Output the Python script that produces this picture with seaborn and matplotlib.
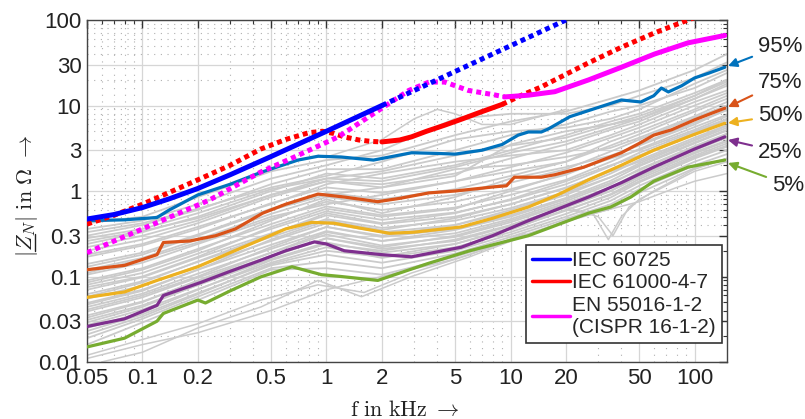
import matplotlib
matplotlib.use('Agg')
import matplotlib.pyplot as plt
from matplotlib.ticker import FixedLocator, FixedFormatter, NullFormatter
from matplotlib.lines import Line2D
from matplotlib.font_manager import FontProperties
import seaborn as sns

# ---------------- data ----------------
# reference impedances
iec60725_solid_f = [0.05, 0.07, 0.1, 0.14, 0.2, 0.3, 0.5, 1, 2]
iec60725_solid_z = [0.47, 0.53, 0.64, 0.81, 1.07, 1.55, 2.53, 5.0, 10.0]
iec60725_dot_f = [2, 5, 10, 20]
iec60725_dot_z = [10, 25, 50, 100]

iec61000_dot1_f = [0.05, 0.07, 0.1, 0.2, 0.3, 0.44, 0.6, 0.8, 0.95, 1.1, 1.25, 1.5, 1.75, 2.0]
iec61000_dot1_z = [0.41, 0.52, 0.7, 1.35, 2.0, 3.1, 4.0, 4.8, 5.0, 4.7, 4.3, 3.95, 3.8, 3.75]
iec61000_solid_f = [2.0, 2.5, 2.9, 3.5, 4.4, 5.5, 6.7, 8.0, 9.0]
iec61000_solid_z = [3.75, 3.95, 4.3, 5.0, 5.9, 7.0, 8.2, 9.4, 10.3]
iec61000_dot2_f = [9.0, 11.5, 14.7, 17.4, 26.5, 40, 60, 92, 100]
iec61000_dot2_z = [10.3, 13.2, 16.5, 19.9, 31.5, 48, 70, 100, 107]

en55016_dot_f = [0.05, 0.1, 0.23, 0.44, 0.67, 1.16, 2.0, 2.8, 3.6, 4.4, 5.9, 8.2, 9.3]
en55016_dot_z = [0.19, 0.36, 0.78, 1.67, 2.5, 4.3, 9.3, 15, 18.8, 18.8, 15, 13.3, 12.6]
en55016_solid_f = [9.3, 12.5, 17.4, 26.5, 40, 60.6, 92, 146]
en55016_solid_z = [12.6, 13.2, 14.5, 19.9, 28, 40, 54, 66]

# percentiles
p95_f = [0.05, 0.08, 0.12, 0.14, 0.2, 0.3, 0.44, 0.7, 0.9, 1.2, 1.8, 2.9, 4, 5, 7, 9, 11, 12.5,
         14.7, 16, 21, 30, 40, 51, 60, 66, 72, 85, 100, 120, 146]
p95_z = [0.45, 0.46, 0.49, 0.6, 0.9, 1.2, 1.65, 2.3, 2.55, 2.5, 2.3, 2.8, 2.75, 2.7, 3.0, 3.5, 4.5,
         4.9, 4.9, 5.3, 7.4, 9.5, 11.6, 11.0, 13.0, 16.0, 14.4, 17.0, 21.0, 24.0, 28.0]
p75_f = [0.05, 0.08, 0.12, 0.13, 0.18, 0.25, 0.32, 0.45, 0.6, 0.9, 1.25, 1.9, 2.5, 3.6, 5, 8.2,
         9.5, 10.5, 14.7, 17.4, 25, 40, 50, 60, 75, 100, 146]
p75_z = [0.12, 0.135, 0.18, 0.25, 0.26, 0.3, 0.36, 0.55, 0.7, 0.92, 0.85, 0.75, 0.82, 0.95, 1.0,
         1.12, 1.15, 1.45, 1.45, 1.55, 1.9, 2.8, 3.6, 4.5, 5.2, 6.8, 9.3]
p50_f = [0.05, 0.08, 0.12, 0.2, 0.3, 0.44, 0.6, 0.83, 1.1, 1.5, 2.2, 3, 5.4, 8, 12.5, 18, 26.5,
         40, 60, 100, 146]
p50_z = [0.057, 0.066, 0.09, 0.13, 0.19, 0.27, 0.36, 0.43, 0.42, 0.37, 0.32, 0.33, 0.38, 0.48,
         0.65, 0.9, 1.35, 2.0, 3.0, 4.6, 6.2]
p25_f = [0.05, 0.08, 0.12, 0.13, 0.21, 0.3, 0.44, 0.6, 0.86, 1.0, 1.25, 2, 2.9, 5.4, 8, 12.5,
         26.5, 40, 60, 100, 146]
p25_z = [0.026, 0.032, 0.046, 0.06, 0.086, 0.115, 0.155, 0.2, 0.254, 0.24, 0.2, 0.18, 0.17, 0.22,
         0.3, 0.45, 0.85, 1.25, 1.9, 3.1, 4.3]
p5_f = [0.05, 0.08, 0.12, 0.13, 0.2, 0.22, 0.3, 0.44, 0.65, 0.94, 1.2, 1.9, 3.6, 6, 12.5, 26.5,
        35, 45, 60, 92, 146]
p5_z = [0.015, 0.019, 0.03, 0.037, 0.053, 0.049, 0.068, 0.099, 0.13, 0.105, 0.1, 0.09, 0.143,
        0.2, 0.3, 0.55, 0.65, 0.85, 1.3, 1.9, 2.3]

percentile_labels = ['95%', '75%', '50%', '25%', '5%']

# measured curves (gray), common frequency grid
gray_f = [0.05, 0.1, 0.2, 0.5, 1, 2, 5, 10, 20, 35, 50, 100, 150]
gray_curves = [
    [0.42, 0.50, 0.85, 1.7, 2.3, 2.6, 4.5, 6.5, 8.5, 12, 15, 26, 40],
    [0.36, 0.45, 0.70, 1.4, 2.0, 3.0, 7.0, 8.0, 8.0, 10, 13, 21, 32],
    [0.33, 0.42, 0.62, 1.1, 1.5, 2.2, 4.0, 5.0, 5.5, 7, 9, 18, 26],
    [0.30, 0.40, 0.60, 1.2, 1.8, 1.8, 3.0, 4.5, 6.0, 8.5, 10, 16, 24],
    [0.28, 0.36, 0.55, 1.05, 1.4, 1.3, 1.9, 2.8, 3.8, 5.5, 7, 13, 19],
    [0.26, 0.34, 0.48, 0.9, 1.3, 1.1, 1.5, 3.5, 5.0, 6, 7, 12, 18],
    [0.24, 0.33, 0.50, 1.0, 1.6, 1.4, 2.0, 3.0, 4.5, 6.5, 8, 14, 20],
    [0.22, 0.30, 0.45, 0.9, 1.4, 1.7, 2.6, 3.4, 4.2, 6.0, 7.5, 13, 20],
    [0.20, 0.27, 0.42, 0.85, 1.3, 1.2, 1.6, 2.4, 3.5, 5.2, 6.5, 12, 17],
    [0.18, 0.24, 0.38, 0.7, 1.2, 1.6, 2.2, 2.6, 3.0, 4.5, 6, 11, 15],
    [0.17, 0.23, 0.36, 0.72, 1.1, 0.95, 1.3, 1.9, 2.8, 4.2, 5.5, 10, 14],
    [0.14, 0.19, 0.31, 0.62, 0.95, 0.8, 1.05, 1.5, 2.2, 3.4, 4.6, 8.5, 12],
    [0.13, 0.18, 0.30, 0.6, 0.9, 1.1, 1.8, 2.0, 2.5, 3.2, 4.2, 7.5, 11],
    [0.12, 0.165, 0.27, 0.54, 0.85, 0.7, 0.9, 1.25, 1.8, 2.9, 4.0, 7.2, 10],
    [0.11, 0.16, 0.25, 0.5, 0.7, 0.9, 1.3, 1.7, 2.2, 3.8, 5.0, 9, 13],
    [0.105, 0.145, 0.24, 0.47, 0.75, 0.6, 0.75, 1.05, 1.55, 2.5, 3.5, 6.3, 8.8],
    [0.09, 0.125, 0.21, 0.41, 0.66, 0.52, 0.64, 0.9, 1.35, 2.2, 3.1, 5.6, 7.8],
    [0.085, 0.12, 0.20, 0.45, 0.8, 0.55, 0.85, 1.4, 1.9, 2.6, 3.4, 6, 9],
    [0.08, 0.11, 0.185, 0.36, 0.58, 0.46, 0.56, 0.78, 1.2, 1.95, 2.8, 5.0, 7.0],
    [0.075, 0.10, 0.17, 0.38, 0.62, 0.5, 0.62, 1.0, 1.6, 2.4, 3.0, 5.2, 7.5],
    [0.07, 0.098, 0.165, 0.32, 0.52, 0.41, 0.5, 0.7, 1.08, 1.75, 2.5, 4.6, 6.4],
    [0.062, 0.088, 0.148, 0.29, 0.47, 0.37, 0.45, 0.63, 0.98, 1.6, 2.3, 4.2, 5.9],
    [0.058, 0.085, 0.15, 0.31, 0.55, 0.42, 0.55, 0.8, 1.3, 2.0, 2.6, 4.8, 6.8],
    [0.055, 0.078, 0.133, 0.26, 0.42, 0.33, 0.4, 0.57, 0.9, 1.45, 2.1, 3.9, 5.5],
    [0.049, 0.07, 0.12, 0.235, 0.38, 0.29, 0.36, 0.52, 0.83, 1.32, 1.95, 3.6, 5.1],
    [0.047, 0.068, 0.12, 0.27, 0.45, 0.35, 0.48, 0.7, 1.1, 1.7, 2.2, 4.0, 5.8],
    [0.044, 0.063, 0.108, 0.21, 0.34, 0.26, 0.32, 0.47, 0.76, 1.2, 1.8, 3.35, 4.7],
    [0.041, 0.06, 0.10, 0.22, 0.38, 0.3, 0.4, 0.6, 0.95, 1.45, 2.0, 3.7, 5.2],
    [0.039, 0.057, 0.097, 0.19, 0.31, 0.23, 0.29, 0.43, 0.7, 1.1, 1.65, 3.1, 4.3],
    [0.035, 0.051, 0.088, 0.175, 0.28, 0.21, 0.26, 0.39, 0.64, 1.0, 1.5, 2.85, 3.9],
    [0.033, 0.05, 0.09, 0.19, 0.33, 0.26, 0.35, 0.5, 0.8, 1.25, 1.75, 3.3, 4.6],
    [0.031, 0.046, 0.079, 0.16, 0.25, 0.19, 0.24, 0.36, 0.59, 0.92, 1.38, 2.6, 3.6],
    [0.029, 0.044, 0.08, 0.17, 0.28, 0.22, 0.3, 0.45, 0.72, 1.1, 1.6, 3.0, 4.2],
    [0.027, 0.041, 0.071, 0.145, 0.22, 0.165, 0.22, 0.33, 0.54, 0.84, 1.26, 2.4, 3.3],
    [0.025, 0.038, 0.07, 0.155, 0.24, 0.2, 0.27, 0.4, 0.66, 1.0, 1.45, 2.75, 3.8],
    [0.023, 0.036, 0.064, 0.135, 0.18, 0.145, 0.2, 0.31, 0.5, 0.77, 1.15, 2.2, 3.0],
    [0.021, 0.034, 0.062, 0.14, 0.2, 0.17, 0.24, 0.37, 0.6, 0.9, 1.3, 2.5, 3.4],
    [0.019, 0.032, 0.058, 0.125, 0.15, 0.125, 0.185, 0.29, 0.47, 0.7, 1.05, 2.0, 2.7],
    [0.016, 0.029, 0.053, 0.12, 0.125, 0.105, 0.17, 0.27, 0.44, 0.62, 0.95, 1.85, 2.4],
]
# individual outlier curves
outlier_curves = [
    ([0.05, 0.1, 0.2, 0.5, 1, 2, 5, 10, 20], [0.011, 0.016, 0.022, 0.04, 0.07, 0.1, 0.16, 0.26, 0.45]),
    ([0.06, 0.1, 0.2, 0.44, 0.9, 1.55, 2.9, 6, 12], [0.010, 0.013, 0.025, 0.044, 0.09, 0.058, 0.1, 0.17, 0.3]),
    ([0.05, 0.2, 0.44, 0.9, 1.6, 2.9, 6, 12], [0.012, 0.028, 0.053, 0.08, 0.065, 0.11, 0.18, 0.32]),
    ([10, 20, 28, 34, 40, 50, 100, 150], [0.35, 0.6, 0.55, 0.27, 0.5, 0.8, 1.7, 2.2]),
    ([10, 20, 30, 36, 44, 60, 100, 150], [0.4, 0.65, 0.5, 0.3, 0.65, 1.0, 1.8, 2.4]),
    ([1, 2, 3, 4, 5, 7, 10, 20], [2.5, 4.0, 7.0, 9.0, 8.0, 6.0, 6.0, 9.0]),
    ([20, 50, 80, 100, 150], [0.45, 0.75, 1.1, 1.3, 1.6]),
]

# ---------------- styling ----------------
sns.set_theme(style='white')
plt.rcParams['font.family'] = ['Liberation Sans', 'DejaVu Sans']
plt.rcParams['mathtext.fontset'] = 'cm'

c_blue, c_red, c_mag = '#0000ff', '#ff0000', '#ff00ff'
pct_colors = ['#0072BD', '#D95319', '#EDB120', '#7E2F8E', '#77AC30']
gray = '#cbcbcb'
dot_ls = (0, (1.0, 0.8))

fig = plt.figure(figsize=(8.05, 4.19), dpi=100)
ax = fig.add_axes([87 / 805, 57 / 419, 640 / 805, 342 / 419])
ax.set_xscale('log')
ax.set_yscale('log')


def draw(f, z, **kw):
    sns.lineplot(x=f, y=z, ax=ax, estimator=None, sort=False, legend=False, **kw)


for zc in gray_curves:
    draw(gray_f, zc, color=gray, lw=1.3, zorder=2)
for fo, zo in outlier_curves:
    draw(fo, zo, color=gray, lw=1.1, zorder=2)

pct_data = [(p95_f, p95_z), (p75_f, p75_z), (p50_f, p50_z), (p25_f, p25_z), (p5_f, p5_z)]
for (pf, pz), col in zip(pct_data, pct_colors):
    draw(pf, pz, color=col, lw=2.3, zorder=3)

# reference impedances
draw(iec61000_dot1_f, iec61000_dot1_z, color=c_red, lw=3.6, linestyle=dot_ls,
     dash_capstyle='butt', zorder=4)
draw(iec61000_solid_f, iec61000_solid_z, color=c_red, lw=3.6, zorder=4)
draw(iec61000_dot2_f, iec61000_dot2_z, color=c_red, lw=3.6, linestyle=dot_ls,
     dash_capstyle='butt', zorder=4)
draw(en55016_dot_f, en55016_dot_z, color=c_mag, lw=3.6, linestyle=dot_ls,
     dash_capstyle='butt', zorder=4)
draw(en55016_solid_f, en55016_solid_z, color=c_mag, lw=3.6, zorder=4)
draw(iec60725_solid_f, iec60725_solid_z, color=c_blue, lw=3.6, zorder=5)
draw(iec60725_dot_f, iec60725_dot_z, color=c_blue, lw=3.6, linestyle=dot_ls,
     dash_capstyle='butt', zorder=5)

# axes, ticks, grid
ax.set_xlim(0.05, 150)
ax.set_ylim(0.01, 100)
x_major = [0.05, 0.1, 0.2, 0.5, 1, 2, 5, 10, 20, 50, 100]
x_labels = ['0.05', '0.1', '0.2', '0.5', '1', '2', '5', '10', '20', '50', '100']
x_minor = [0.06, 0.07, 0.08, 0.09, 0.3, 0.4, 0.6, 0.7, 0.8, 0.9, 3, 4, 6, 7, 8, 9,
           30, 40, 60, 70, 80, 90]
y_major = [0.01, 0.03, 0.1, 0.3, 1, 3, 10, 30, 100]
y_labels = ['0.01', '0.03', '0.1', '0.3', '1', '3', '10', '30', '100']
y_minor = [0.02, 0.04, 0.05, 0.06, 0.07, 0.08, 0.09, 0.2, 0.4, 0.5, 0.6, 0.7, 0.8, 0.9,
           2, 4, 5, 6, 7, 8, 9, 20, 40, 50, 60, 70, 80, 90]
ax.xaxis.set_major_locator(FixedLocator(x_major))
ax.xaxis.set_major_formatter(FixedFormatter(x_labels))
ax.xaxis.set_minor_locator(FixedLocator(x_minor))
ax.xaxis.set_minor_formatter(NullFormatter())
ax.yaxis.set_major_locator(FixedLocator(y_major))
ax.yaxis.set_major_formatter(FixedFormatter(y_labels))
ax.yaxis.set_minor_locator(FixedLocator(y_minor))
ax.yaxis.set_minor_formatter(NullFormatter())

ax.set_axisbelow(True)
ax.grid(which='major', color='#d6d6d6', lw=0.9, ls='-')
ax.grid(which='minor', color='#b0b0b0', lw=0.8, ls=(0, (1, 5)))
ax.tick_params(which='both', direction='in', top=True, right=True, colors='#333333',
               labelcolor='#222222')
ax.tick_params(which='major', length=6, width=1.0, labelsize=16, pad=4)
ax.tick_params(which='minor', length=3, width=0.8)
for sp in ax.spines.values():
    sp.set_color('#444444')
    sp.set_linewidth(1.0)

# legend
handles = [Line2D([], [], color=c_blue, lw=2.5),
           Line2D([], [], color=c_red, lw=2.5),
           Line2D([], [], color=c_mag, lw=2.5)]
leg = ax.legend(handles, ['IEC 60725', 'IEC 61000-4-7', 'EN 55016-1-2\n(CISPR 16-1-2)'],
                loc='lower right', bbox_to_anchor=(0.992, 0.056), borderaxespad=0,
                fontsize=15, frameon=True, fancybox=False, framealpha=1,
                edgecolor='#333333', handlelength=1.8, handletextpad=0.1,
                labelspacing=0.15, borderpad=0.3)
leg.get_frame().set_linewidth(1.2)
leg.set_zorder(10)

# percentile annotations (figure pixel coordinates, y from bottom)
ann_text = [(758, 419 - 46), (758, 419 - 82), (758, 419 - 115), (758, 419 - 152), (772, 419 - 185)]
ann_head = [(728, 419 - 66), (728, 419 - 107), (728, 419 - 123), (728, 419 - 140), (728, 419 - 163)]
for lab, col, tp, hp in zip(percentile_labels, pct_colors, ann_text, ann_head):
    ax.annotate(lab, xy=hp, xytext=tp, xycoords='figure pixels', textcoords='figure pixels',
                ha='left', va='center', fontsize=16, color='#222222', annotation_clip=False,
                arrowprops=dict(arrowstyle='-|>', color=col, lw=1.5, shrinkA=2, shrinkB=0,
                                mutation_scale=13))

# axis labels
ylab = r'$|Z_N|\ \mathrm{in}\ \Omega\ \rightarrow$'
ytxt = fig.text(27 / 805, 1 - 196 / 419, ylab, rotation=90, ha='center', va='center',
                fontsize=16, color='#222222')
fig.text(405 / 805, 3 / 419, r'$\mathrm{f\ in\ kHz}\ \rightarrow$', ha='center',
         va='baseline', fontsize=16, color='#222222')

# underline under the phasor symbol Z of the y label (drawn as a short line)
fig.canvas.draw()
renderer = fig.canvas.get_renderer()
prop = FontProperties(size=16)
bb = ytxt.get_window_extent(renderer)
w_bar, _, _ = renderer.get_text_width_height_descent(r'$|$', prop, ismath=True)
w_barz, _, _ = renderer.get_text_width_height_descent(r'$|Z$', prop, ismath=True)
_, h_full, d_full = renderer.get_text_width_height_descent(ylab, prop, ismath=True)
x_base = bb.x1 - d_full + 2.5
fig.add_artist(Line2D([x_base, x_base], [bb.y0 + w_bar + 1, bb.y0 + w_barz - 1],
                      transform=None, color='#222222', lw=1.0))

fig.savefig('out.png', dpi=100)
